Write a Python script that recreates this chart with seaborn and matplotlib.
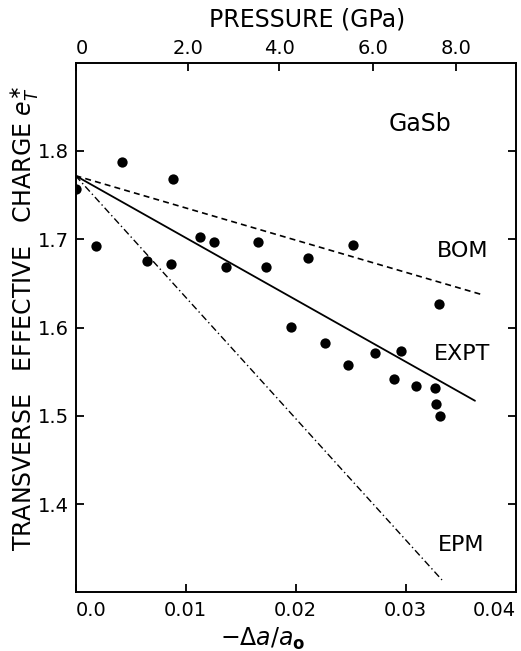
import matplotlib
matplotlib.use("Agg")
import matplotlib.pyplot as plt
import seaborn as sns
import numpy as np
import pandas as pd

# ---- data ----
strain = [0.0, 0.0019, 0.0042, 0.0089, 0.0065, 0.0087, 0.0113, 0.0126, 0.0137,
          0.0166, 0.0173, 0.0211, 0.0196, 0.0252, 0.0330, 0.0227, 0.0248, 0.0272,
          0.0296, 0.0289, 0.0309, 0.0327, 0.0328, 0.0331]
charge = [1.757, 1.692, 1.787, 1.768, 1.675, 1.672, 1.703, 1.697, 1.668,
          1.697, 1.668, 1.679, 1.601, 1.693, 1.627, 1.583, 1.558, 1.571,
          1.573, 1.542, 1.534, 1.531, 1.513, 1.500]

expt_x = [0.0, 0.0363]
expt_y = [1.772, 1.517]
bom_x = [0.0, 0.0370]
bom_y = [1.772, 1.637]
epm_x = [0.0, 0.0333]
epm_y = [1.772, 1.314]

x_ticks = [0.0, 0.01, 0.02, 0.03, 0.04]
x_ticklabels = ["0.0", "0.01", "0.02", "0.03", "0.04"]
y_ticks = [1.4, 1.5, 1.6, 1.7, 1.8]
y_ticklabels = ["1.4", "1.5", "1.6", "1.7", "1.8"]
p_ticks = [0.0, 0.01023, 0.0185, 0.02705, 0.03459]
p_ticklabels = ["0", "2.0", "4.0", "6.0", "8.0"]

curve_labels = ["BOM", "EXPT", "EPM"]
curve_label_pos = [(0.0352, 1.687), (0.0351, 1.570), (0.0350, 1.354)]

# ---- styling ----
sns.set_theme(style="white")
plt.rcParams["font.family"] = ["DejaVu Sans"]
plt.rcParams["mathtext.fontset"] = "dejavusans"
plt.rcParams["lines.scale_dashes"] = False

fig = plt.figure(figsize=(5.21, 6.51), dpi=100)
L, R, B, T = 75.5 / 521, 515.7 / 521, 1 - 592.3 / 651, 1 - 62.7 / 651
ax = fig.add_axes([L, B, R - L, T - B])

df = pd.DataFrame({"strain": strain, "charge": charge})
sns.scatterplot(data=df, x="strain", y="charge", ax=ax, color="black",
                s=55, edgecolor="black", linewidth=0, zorder=3)

sns.lineplot(x=expt_x, y=expt_y, ax=ax, color="black", linewidth=1.3)
sns.lineplot(x=bom_x, y=bom_y, ax=ax, color="black", linewidth=1.2,
             dashes=False).lines[-1].set_dashes((4.3, 3.0))
l_epm = sns.lineplot(x=epm_x, y=epm_y, ax=ax, color="black", linewidth=1.0).lines[-1]
l_epm.set_dashes((5.0, 2.2, 1.0, 2.2))

ax.set_xlim(0.0, 0.04)
ax.set_ylim(1.30, 1.90)

for sp in ax.spines.values():
    sp.set_color("black")
    sp.set_linewidth(1.4)

ax.set_xticks(x_ticks)
ax.set_xticklabels(x_ticklabels)
ax.set_yticks(y_ticks)
ax.set_yticklabels(y_ticklabels)
ax.tick_params(axis="both", direction="in", length=6, width=1.3, colors="black",
               labelsize=14)
ax.tick_params(axis="x", pad=6.5, bottom=True, top=False)
ax.tick_params(axis="y", pad=5, left=True, right=True)
xl = ax.get_xticklabels()
xl[0].set_ha("left")
xl[-1].set_ha("right")

ax2 = ax.twiny()
ax2.set_xlim(ax.get_xlim())
ax2.set_xticks(p_ticks)
ax2.set_xticklabels(p_ticklabels)
ax2.tick_params(axis="x", direction="in", length=6, width=1.3, colors="black",
                labelsize=14, pad=3.5)
ax2.get_xticklabels()[0].set_ha("left")
for sp in ax2.spines.values():
    sp.set_visible(False)

ax.set_xlabel(r"$-\Delta a/a_{\mathbf{o}}$", fontsize=17, color="black")
ax.xaxis.set_label_coords(0.426, -0.064)
ax.set_ylabel(r"TRANSVERSE   EFFECTIVE   CHARGE $e^{\ast}_{T}$", fontsize=17,
              color="black", va="center")
ax.yaxis.set_label_coords(-0.117, 0.518)

fig.text(307 / 521, 1 - 20 / 651, "PRESSURE (GPa)", ha="center", va="center",
         fontsize=17, color="black")

ax.text(0.0313, 1.830, "GaSb", ha="center", va="center", fontsize=17, color="black")
for lab, (tx, ty) in zip(curve_labels, curve_label_pos):
    ax.text(tx, ty, lab, ha="center", va="center", fontsize=16, color="black")

fig.savefig("out.png", dpi=100)
